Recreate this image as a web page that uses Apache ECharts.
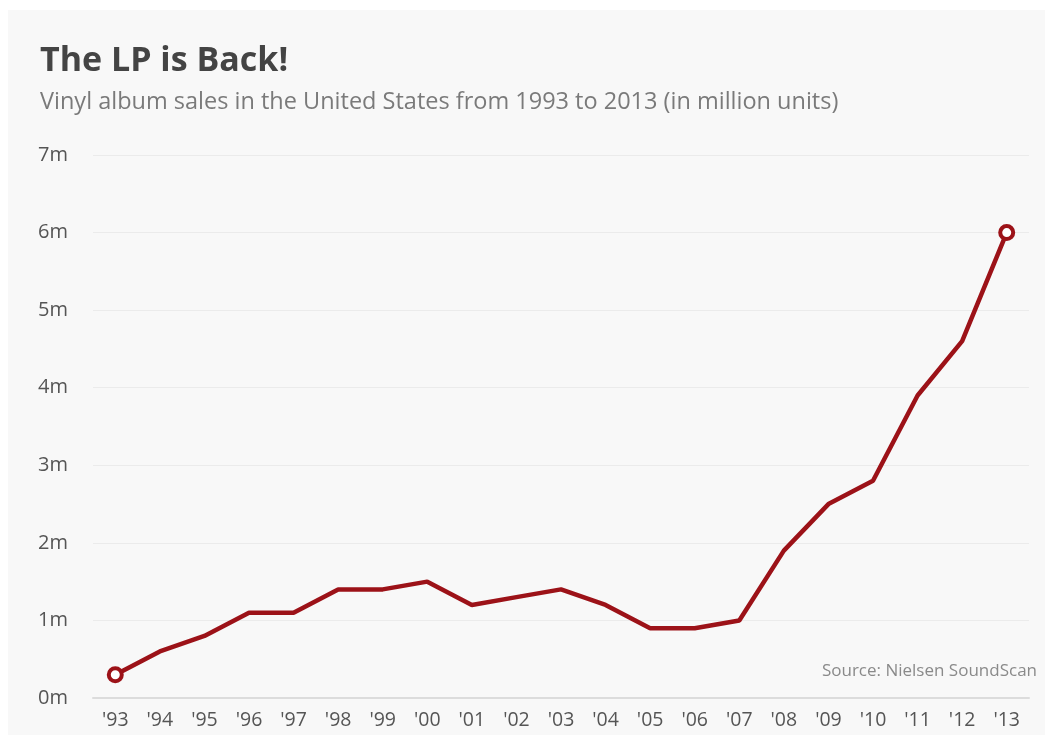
<!DOCTYPE html>
<html><head><meta charset="utf-8">
<script src="https://cdn.jsdelivr.net/npm/echarts@6/dist/echarts.min.js"></script>
<style>html,body{margin:0;padding:0;background:#fff}#c{width:1053px;height:740px}</style>
</head><body><div id="c"></div>
<script>
const years = ["'93","'94","'95","'96","'97","'98","'99","'00","'01","'02","'03","'04","'05","'06","'07","'08","'09","'10","'11","'12","'13"];
const sales = [0.3,0.6,0.8,1.1,1.1,1.4,1.4,1.5,1.2,1.3,1.4,1.2,0.9,0.9,1.0,1.9,2.5,2.8,3.9,4.6,6.0];
const yTicks = [0,1,2,3,4,5,6,7];
const titleText = 'The LP is Back!';
const subtitleText = 'Vinyl album sales in the United States from 1993 to 2013 (in million units)';
const sourceText = 'Source: Nielsen SoundScan';

const chart = echarts.init(document.getElementById('c'));
const data = sales.map((v,i)=>({
  value: v,
  symbolSize: (i===0||i===sales.length-1)?13:0
}));
chart.setOption({
  backgroundColor:'#fff',
  animation:false,
  graphic:[
    {type:'rect',left:8,top:10,shape:{width:1037,height:725},style:{fill:'#f8f8f8'},z:-10},
    {type:'text',right:16,top:663,style:{text:sourceText,font:'17px "Open Sans"',fill:'#8a8a8a'}}
  ],
  title:{
    text:titleText, subtext:subtitleText, left:35, top:39,
    textStyle:{fontFamily:'Open Sans',fontWeight:'bold',fontSize:34,color:'#444'},
    subtextStyle:{fontFamily:'Open Sans',fontSize:23.5,color:'#7a7a7a'},
    itemGap:12
  },
  grid:{left:93,right:24,top:155,bottom:42},
  xAxis:{
    type:'category', data:years, boundaryGap:true,
    axisLine:{lineStyle:{color:'#dcdcdc',width:2}},
    axisTick:{show:false},
    axisLabel:{color:'#555',fontFamily:'Open Sans',fontSize:19.5,margin:12}
  },
  yAxis:{
    type:'value', min:0, max:7, interval:1,
    axisLine:{show:false}, axisTick:{show:false},
    splitLine:{lineStyle:{color:'#ebebeb',width:1}},
    axisLabel:{color:'#555',fontFamily:'Open Sans',fontSize:20,align:'left',margin:55,
      formatter:v=>v+'m'}
  },
  series:[{
    type:'line', data:data, symbol:'circle', showSymbol:true,
    lineStyle:{color:'#9c1218',width:4.5},
    itemStyle:{color:'#fff',borderColor:'#9c1218',borderWidth:4},
    z:5
  }]
});
</script></body></html>
